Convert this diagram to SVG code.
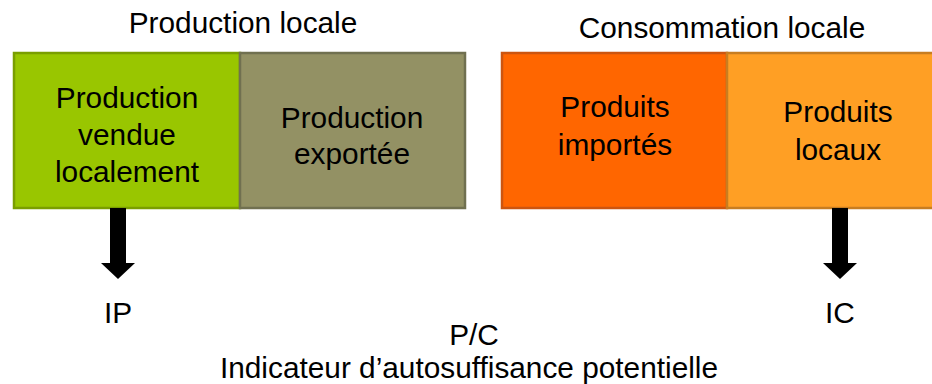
<svg xmlns="http://www.w3.org/2000/svg" width="932" height="384" viewBox="0 0 932 384">
<style>
text{font-family:"Liberation Sans",Arial,sans-serif;font-size:29.8px;fill:#000;text-anchor:middle}
.b{stroke-width:2.5}
</style>
<defs>
<polygon id="arr" points="-8,0 8,0 8,55 17,55 0,71 -17,55 -8,55"/>
</defs>
<rect width="932" height="384" fill="#fff"/>
<text x="243" y="33">Production locale</text>
<text x="722" y="38">Consommation locale</text>
<g id="n1"><rect class="b" x="14" y="53" width="226" height="155" fill="#99C600" stroke="#7A9E00"/>
<text x="127" y="108">Production</text><text x="127" y="145">vendue</text><text x="127" y="182">localement</text></g>
<g id="n2"><rect class="b" x="240" y="53" width="225" height="155" fill="#939164" stroke="#707050"/>
<text x="352" y="128">Production</text><text x="352" y="164">exportée</text></g>
<g id="n3"><rect class="b" x="502" y="53" width="225" height="155" fill="#FF6600" stroke="#CC5510"/>
<text x="615" y="117">Produits</text><text x="615" y="155">importés</text></g>
<g id="n4"><rect class="b" x="727" y="53" width="230" height="155" fill="#FF9F24" stroke="#C87D20"/>
<text x="838" y="122">Produits</text><text x="838" y="160">locaux</text></g>
<g id="connectors">
<use href="#arr" x="118" y="208"/>
<use href="#arr" x="840" y="208"/>
</g>
<text x="118" y="323">IP</text>
<text x="840" y="323">IC</text>
<text x="474" y="345">P/C</text>
<text x="469" y="378">Indicateur d’autosuffisance potentielle</text>
</svg>
